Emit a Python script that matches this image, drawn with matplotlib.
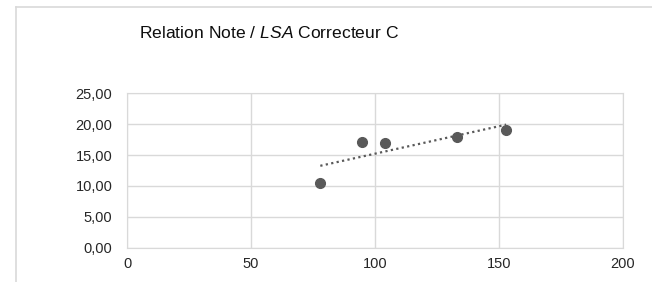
import matplotlib
matplotlib.use("Agg")
import matplotlib.pyplot as plt
import numpy as np
from matplotlib.lines import Line2D

plt.rcParams['font.family'] = ['Liberation Sans', 'DejaVu Sans']
plt.rcParams['mathtext.fontset'] = 'custom'
plt.rcParams['mathtext.it'] = 'Liberation Sans:italic'
plt.rcParams['mathtext.rm'] = 'Liberation Sans'

lsa = [78, 95, 104, 133, 153]
note = [10.5, 17.2, 17.0, 18.0, 19.0]
x_ticks = [0, 50, 100, 150, 200]
y_ticks = [0, 5, 10, 15, 20, 25]

fig = plt.figure(figsize=(6.52, 2.82), dpi=100)
ax = fig.add_axes([0.1948, 0.1216, 0.7602, 0.5474])

ax.set_xlim(0, 200)
ax.set_ylim(0, 25)
ax.set_xticks(x_ticks)
ax.set_yticks(y_ticks)
ax.set_xticklabels([str(t) for t in x_ticks])
ax.set_yticklabels([f"{t:.2f}".replace('.', ',') for t in y_ticks])
ax.grid(True, color='#d9d9d9', linewidth=1.0)
ax.set_axisbelow(True)
for s in ax.spines.values():
    s.set_color('#d9d9d9')
ax.tick_params(length=0, labelsize=10.5, colors='#262626')
ax.tick_params(axis='y', pad=10.5)
ax.tick_params(axis='x', pad=7)

# trendline
coef = np.polyfit(lsa, note, 1)
xs = np.array([min(lsa), max(lsa)])
ax.plot(xs, np.polyval(coef, xs), linestyle=(0, (1, 1.5)), color='#595959', linewidth=1.6, zorder=2)
ax.plot(lsa, note, 'o', color='#595959', markersize=7, zorder=3)

fig.text(0.413, 1 - 37.7/282, "Relation Note / $\\mathit{LSA}$ Correcteur C", ha='center', va='baseline',
         fontsize=12.6, color='#0d0d0d')

fig.add_artist(Line2D([16/652, 16/652], [0, 1 - 7/282], transform=fig.transFigure, color='#d9d9d9', linewidth=1.2))
fig.add_artist(Line2D([16/652, 1], [1 - 7/282, 1 - 7/282], transform=fig.transFigure, color='#d9d9d9', linewidth=1.2))

fig.savefig("out.png", dpi=100)
